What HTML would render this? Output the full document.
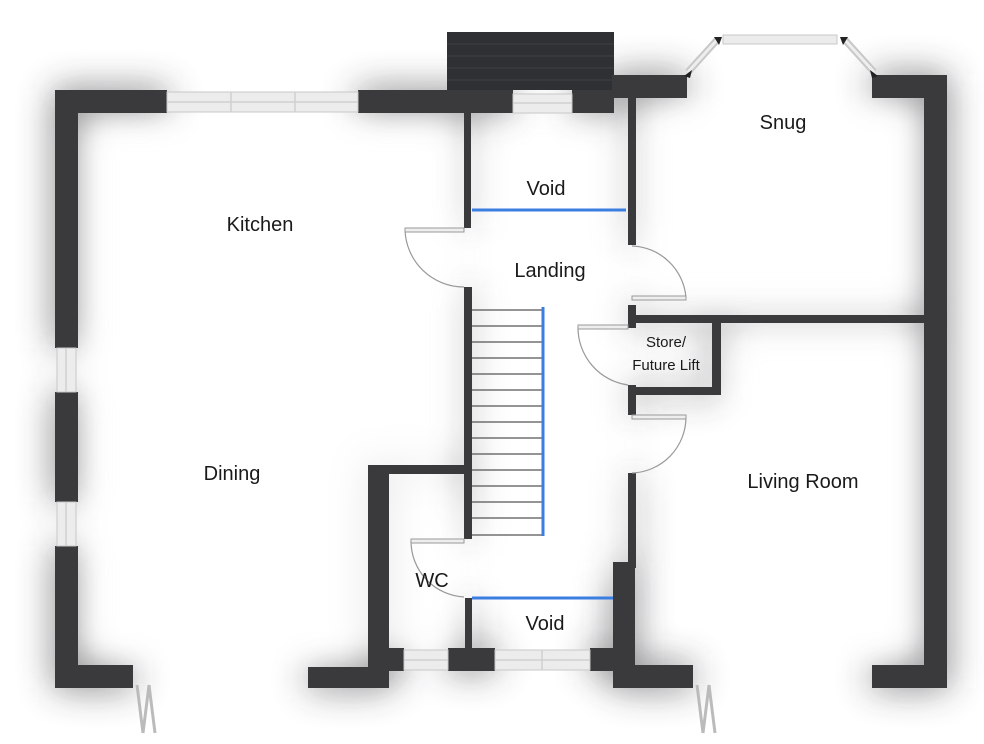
<!DOCTYPE html>
<html><head><meta charset="utf-8"><style>
html,body{margin:0;padding:0;background:#fff;}
svg{display:block;}
text{font-family:"Liberation Sans",sans-serif;fill:#1a1a1a;}
</style></head><body>
<svg width="984" height="744" viewBox="0 0 984 744" xmlns="http://www.w3.org/2000/svg">
<defs>
<filter id="sh" x="-20%" y="-20%" width="140%" height="140%"><feGaussianBlur stdDeviation="18"/></filter>
<filter id="sh2" x="-20%" y="-20%" width="140%" height="140%"><feGaussianBlur stdDeviation="14"/></filter>
<g id="walls" fill="#3a3a3c">
  <rect x="55" y="90" width="112" height="23"/>
  <rect x="55" y="90" width="23" height="258"/>
  <rect x="55" y="392" width="23" height="110"/>
  <rect x="55" y="546" width="23" height="142"/>
  <rect x="55" y="665" width="78" height="23"/>
  <rect x="358" y="90" width="155" height="23"/>
  <rect x="572" y="90" width="42" height="23"/>
  <rect x="612" y="75" width="75" height="23"/>
  <rect x="628" y="75" width="8" height="170"/>
  <rect x="464" y="113" width="7" height="115"/>
  <rect x="464" y="287" width="8" height="252"/>
  <rect x="368" y="465" width="104" height="9"/>
  <rect x="368" y="465" width="21" height="223"/>
  <rect x="308" y="667" width="81" height="21"/>
  <rect x="389" y="648" width="15" height="23"/>
  <rect x="448" y="648" width="47" height="23"/>
  <rect x="465" y="598" width="7" height="50"/>
  <rect x="590" y="648" width="45" height="23"/>
  <rect x="613" y="562" width="22" height="126"/>
  <rect x="628" y="473" width="8" height="95"/>
  <rect x="613" y="665" width="80" height="23"/>
  <rect x="628" y="305" width="8" height="23"/>
  <rect x="636" y="315" width="290" height="8"/>
  <rect x="712" y="315" width="9" height="80"/>
  <rect x="636" y="387" width="85" height="8"/>
  <rect x="628" y="385" width="8" height="30"/>
  <rect x="872" y="75" width="75" height="23"/>
  <rect x="924" y="75" width="23" height="613"/>
  <rect x="872" y="665" width="75" height="23"/>
</g>
</defs>
<g opacity="0.7" filter="url(#sh)"><use href="#walls"/></g>
<rect x="90" y="125" width="362" height="528" fill="#fff" opacity="0.8" filter="url(#sh2)"/>
<rect x="648" y="110" width="264" height="193" fill="#fff" opacity="0.8" filter="url(#sh2)"/>
<rect x="733" y="335" width="179" height="318" fill="#fff" opacity="0.8" filter="url(#sh2)"/>
<rect x="480" y="125" width="140" height="460" fill="#fff" opacity="0.5" filter="url(#sh2)"/>
<rect x="447" y="32" width="167" height="58" fill="#2e3033"/>
<g stroke="#3f4246" stroke-width="1">
<line x1="447" y1="44" x2="614" y2="44"/><line x1="447" y1="56" x2="614" y2="56"/><line x1="447" y1="68" x2="614" y2="68"/><line x1="447" y1="80" x2="614" y2="80"/>
</g>
<use href="#walls"/>
<g fill="#ececec" stroke="#c8c8c8" stroke-width="1">
<rect x="167" y="92" width="191" height="20"/>
<rect x="513" y="94" width="59" height="19"/>
<rect x="57" y="348" width="19" height="44"/>
<rect x="57" y="502" width="19" height="44"/>
<rect x="404" y="650" width="44" height="20"/>
<rect x="495" y="650" width="95" height="20"/>
<rect x="723" y="35" width="114" height="9"/>
</g>
<g stroke="#d0d0d0" stroke-width="1.5">
<line x1="167" y1="102" x2="358" y2="102"/><line x1="231" y1="92" x2="231" y2="112"/><line x1="295" y1="92" x2="295" y2="112"/>
<line x1="513" y1="103" x2="572" y2="103"/>
<line x1="404" y1="660" x2="448" y2="660"/>
<line x1="495" y1="660" x2="590" y2="660"/><line x1="542" y1="650" x2="542" y2="670"/>
<line x1="66" y1="348" x2="66" y2="392"/><line x1="66" y1="502" x2="66" y2="546"/>
</g>
<g stroke="#c8c8c8" stroke-width="7" stroke-linecap="butt">
<line x1="688" y1="72" x2="717" y2="40"/><line x1="845" y1="40" x2="874" y2="72"/>
</g>
<g stroke="#eee" stroke-width="3"><line x1="688" y1="72" x2="717" y2="40"/><line x1="845" y1="40" x2="874" y2="72"/></g>
<g fill="#222"><polygon points="714,37 722,37 719,45"/><polygon points="840,37 848,37 843,45"/><polygon points="684,76 692,70 690,78"/><polygon points="870,70 878,76 872,78"/></g>
<g stroke="#555" stroke-width="1.2">
<line x1="472" y1="310" x2="543" y2="310"/><line x1="472" y1="326" x2="543" y2="326"/><line x1="472" y1="342" x2="543" y2="342"/><line x1="472" y1="358" x2="543" y2="358"/><line x1="472" y1="374" x2="543" y2="374"/><line x1="472" y1="390" x2="543" y2="390"/><line x1="472" y1="406" x2="543" y2="406"/><line x1="472" y1="422" x2="543" y2="422"/><line x1="472" y1="438" x2="543" y2="438"/><line x1="472" y1="454" x2="543" y2="454"/><line x1="472" y1="470" x2="543" y2="470"/><line x1="472" y1="486" x2="543" y2="486"/><line x1="472" y1="502" x2="543" y2="502"/><line x1="472" y1="518" x2="543" y2="518"/><line x1="472" y1="535" x2="543" y2="535"/>
</g>
<g stroke="#3b7de0" stroke-width="3">
<line x1="543" y1="307" x2="543" y2="536"/>
<line x1="472" y1="210" x2="626" y2="210"/>
<line x1="472" y1="598" x2="613" y2="598"/>
</g>
<g fill="none" stroke="#999" stroke-width="1.2">
<path d="M405 230 A59 59 0 0 0 464 287"/>
<path d="M686 298 A56 56 0 0 0 632 246"/>
<path d="M578 327 A58 58 0 0 0 628 385"/>
<path d="M686 417 A56 56 0 0 1 632 473"/>
<path d="M411 541 A56 56 0 0 0 464 597"/>
</g>
<g fill="#eee" stroke="#999" stroke-width="1">
<rect x="405" y="228" width="59" height="4"/>
<rect x="632" y="296" width="54" height="4"/>
<rect x="578" y="325" width="50" height="4"/>
<rect x="632" y="415" width="54" height="4"/>
<rect x="411" y="539" width="53" height="4"/>
</g>
<g stroke="#bbb" stroke-width="3" fill="none">
<polyline points="137,685 143,733 149,685 155,733"/>
<polyline points="697,685 703,733 709,685 715,733"/>
</g>
<g font-size="20" text-anchor="middle">
<text x="260" y="231">Kitchen</text>
<text x="546" y="195">Void</text>
<text x="550" y="277">Landing</text>
<text x="783" y="129">Snug</text>
<text x="232" y="480">Dining</text>
<text x="803" y="488">Living Room</text>
<text x="432" y="587">WC</text>
<text x="545" y="630">Void</text>
</g>
<g font-size="15" text-anchor="middle">
<text x="666" y="347">Store/</text>
<text x="666" y="370">Future Lift</text>
</g>
</svg>
</body></html>
